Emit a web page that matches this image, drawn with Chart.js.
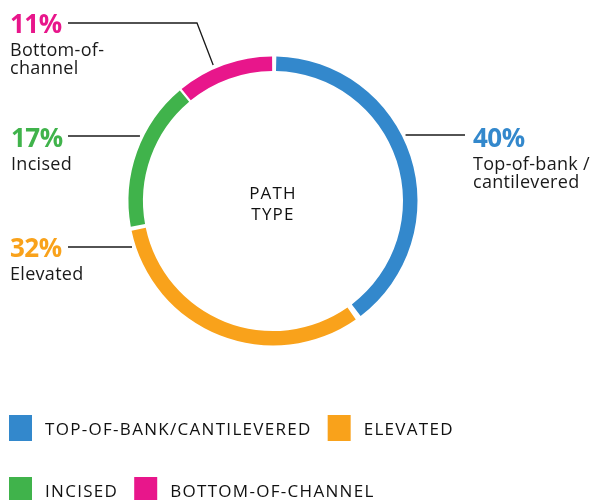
<!DOCTYPE html>
<html>
<head>
<meta charset="utf-8">
<script src="https://cdn.jsdelivr.net/npm/chart.js@4/dist/chart.umd.min.js"></script>
<style>
  html, body { margin: 0; padding: 0; background: #fff; }
  #wrap { width: 595px; height: 500px; }
</style>
</head>
<body>
<div id="wrap"><canvas id="pathChart" width="595" height="500"></canvas></div>
<script>
const categories = ["Top-of-bank/cantilevered", "Elevated", "Incised", "Bottom-of-channel"];
const shares = [40, 32, 17, 11];
const colours = ["#3388cc", "#f9a21b", "#40b34b", "#e8168b"];
const calloutText = [["Top-of-bank /", "cantilevered"], ["Elevated"], ["Incised"], ["Bottom-of-", "channel"]];
const centreText = ["PATH", "TYPE"];

const FONT = '"Open Sans", "Noto Sans", sans-serif';
const SPACING = 5;

// where each callout sits: text x, baseline of the percent, y of its leader line
const callouts = [
  { side: "right", x: 473, y: 147, lineY: 135, lineEnd: 465 },
  { side: "left", x: 10, y: 257, lineY: 247, lineEnd: 68 },
  { side: "left", x: 11, y: 147, lineY: 136, lineEnd: 68 },
  { side: "elbow", x: 10, y: 33, lineY: 23, lineEnd: 68, elbowX: 197 },
];

const calloutPlugin = {
  id: "callouts",
  afterDraw(chart) {
    const ctx = chart.ctx;
    const arcs = chart.getDatasetMeta(0).data;
    // arcs are painted pushed out by half the spacing
    const cx = arcs[0].x, cy = arcs[0].y, r = arcs[0].outerRadius + SPACING / 2;
    const gap = 4;

    ctx.save();
    ctx.strokeStyle = "#1a1a1a";
    ctx.lineWidth = 1.3;
    callouts.forEach((c, i) => {
      ctx.beginPath();
      if (c.side === "elbow") {
        const a = arcs[i];
        const ang = a.startAngle + 0.4 * (a.endAngle - a.startAngle);
        ctx.moveTo(c.lineEnd, c.lineY);
        ctx.lineTo(c.elbowX, c.lineY);
        ctx.lineTo(cx + (r + gap) * Math.cos(ang), cy + (r + gap) * Math.sin(ang));
      } else {
        const dx = Math.sqrt(r * r - (c.lineY - cy) ** 2) + gap;
        const ringX = c.side === "right" ? cx + dx : cx - dx;
        ctx.moveTo(ringX, c.lineY);
        ctx.lineTo(c.lineEnd, c.lineY);
      }
      ctx.stroke();

      ctx.textAlign = "left";
      ctx.textBaseline = "alphabetic";
      ctx.fillStyle = colours[i];
      ctx.font = "bold 26px " + FONT;
      ctx.letterSpacing = "-0.5px";
      ctx.fillText(shares[i] + "%", c.x, c.y);
      ctx.letterSpacing = "0.3px";
      ctx.fillStyle = "#1a1a1a";
      ctx.font = "18px " + FONT;
      calloutText[i].forEach((t, k) => ctx.fillText(t, c.x, c.y + 23 + k * 18));
    });

    // centre caption
    ctx.fillStyle = "#111";
    ctx.font = "17px " + FONT;
    ctx.letterSpacing = "1.2px";
    ctx.textAlign = "center";
    ctx.fillText(centreText[0], cx, 199);
    ctx.fillText(centreText[1], cx, 220);

    // legend, two rows of colour squares
    ctx.textAlign = "left";
    ctx.font = "17px " + FONT;
    ctx.letterSpacing = "1.3px";
    const rows = [[0, 1], [2, 3]];
    rows.forEach((row, ri) => {
      let x = 9;
      const top = 415 + ri * 62;
      row.forEach(i => {
        ctx.fillStyle = colours[i];
        ctx.fillRect(x, top, 23, 26);
        ctx.fillStyle = "#111";
        const label = categories[i].toUpperCase();
        ctx.fillText(label, x + 36, top + 20);
        x += 36 + ctx.measureText(label).width + 16;
      });
    });
    ctx.restore();
  },
};

new Chart(document.getElementById("pathChart"), {
  type: "doughnut",
  data: {
    labels: categories,
    datasets: [{
      data: shares,
      backgroundColor: colours,
      borderWidth: 0,
      spacing: SPACING,
    }],
  },
  options: {
    responsive: false,
    animation: false,
    radius: 142,
    cutout: "89.8%",
    layout: { padding: { left: 128, right: 177, top: 56, bottom: 154 } },
    plugins: {
      legend: { display: false },
      tooltip: { enabled: false },
    },
  },
  plugins: [calloutPlugin],
});
</script>
</body>
</html>
